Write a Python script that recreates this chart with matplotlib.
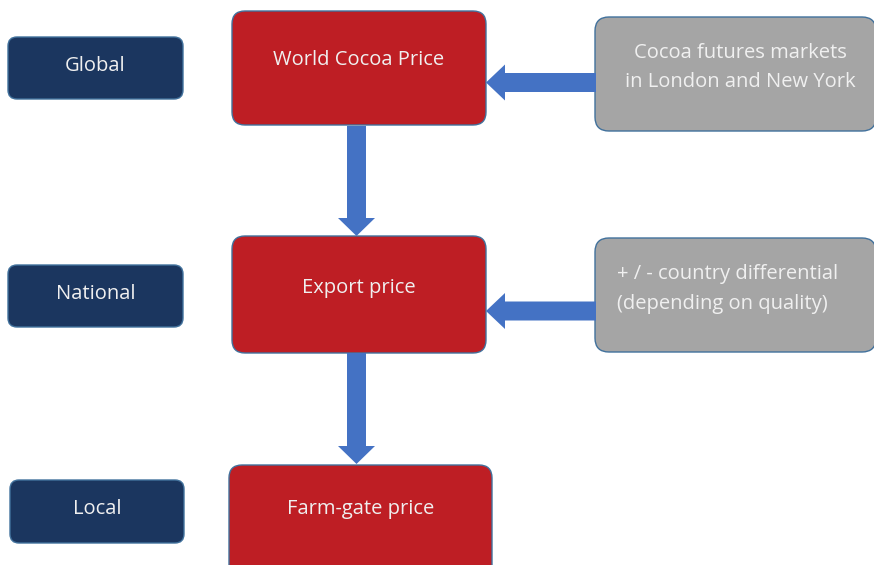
import matplotlib
matplotlib.use("Agg")
import matplotlib.pyplot as plt
from matplotlib.patches import FancyBboxPatch, FancyArrow

plt.rcParams['font.family'] = ['Open Sans', 'DejaVu Sans']

# Content
level_labels = ["Global", "National", "Local"]
price_labels = ["World Cocoa Price", "Export price", "Farm-gate price"]
driver_labels = ["Cocoa futures markets\nin London and New York",
                 "+ / - country differential\n(depending on quality)"]

# Colours
NAVY = "#1B365F"
RED = "#BE1E24"
GRAY = "#A5A5A5"
ARROW = "#4472C4"
EDGE = "#41719C"
TEXT = "#F0F0F0"

FS = 14.5

W, H = 874, 565
fig = plt.figure(figsize=(W / 100, H / 100), dpi=100)
ax = fig.add_axes([0, 0, 1, 1])
ax.set_xlim(0, W)
ax.set_ylim(H, 0)
ax.axis("off")

def box(x0, y0, x1, y1, color, r):
    p = FancyBboxPatch((x0 + r, y0 + r), (x1 - x0) - 2 * r, (y1 - y0) - 2 * r,
                       boxstyle=f"round,pad={r},rounding_size={r}",
                       fc=color, ec=EDGE, lw=1.0)
    ax.add_patch(p)

# Level boxes (left)
level_geo = [(8, 37, 183, 99), (8, 265, 183, 327), (10, 480, 184, 543)]
for (x0, y0, x1, y1), lab in zip(level_geo, level_labels):
    box(x0, y0, x1, y1, NAVY, 9)
    ax.text((x0 + x1) / 2, (y0 + y1) / 2 - 2, lab, color=TEXT, fontsize=FS,
            ha="center", va="center")

# Price boxes (centre)
price_geo = [(232, 11, 486, 125), (232, 236, 486, 353), (229, 465, 492, 580)]
price_text_y = [58, 286, 507]
for (x0, y0, x1, y1), lab, ty in zip(price_geo, price_labels, price_text_y):
    box(x0, y0, x1, y1, RED, 13)
    ax.text((x0 + x1) / 2, ty + 2, lab, color=TEXT, fontsize=FS,
            ha="center", va="center")

# Driver boxes (right)
driver_geo = [(595, 17, 876, 131), (595, 238, 876, 352)]
box(*driver_geo[0], GRAY, 14)
ax.text(740, 67.5, driver_labels[0], color=TEXT, fontsize=FS,
        ha="center", va="center", linespacing=1.6)
box(*driver_geo[1], GRAY, 14)
ax.text(617, 289, driver_labels[1], color=TEXT, fontsize=FS,
        ha="left", va="center", linespacing=1.6)

# Down arrows
for y_start, y_end in [(126, 236), (353, 464)]:
    ax.add_patch(FancyArrow(356.5, y_start, 0, y_end - y_start, width=19,
                            head_width=37, head_length=18,
                            length_includes_head=True, fc=ARROW, ec="none"))

# Left arrows
for y_mid in [82.5, 311]:
    ax.add_patch(FancyArrow(596, y_mid, 486 - 596, 0, width=19,
                            head_width=36, head_length=19,
                            length_includes_head=True, fc=ARROW, ec="none"))

fig.savefig("out.png", dpi=100, facecolor="white")
